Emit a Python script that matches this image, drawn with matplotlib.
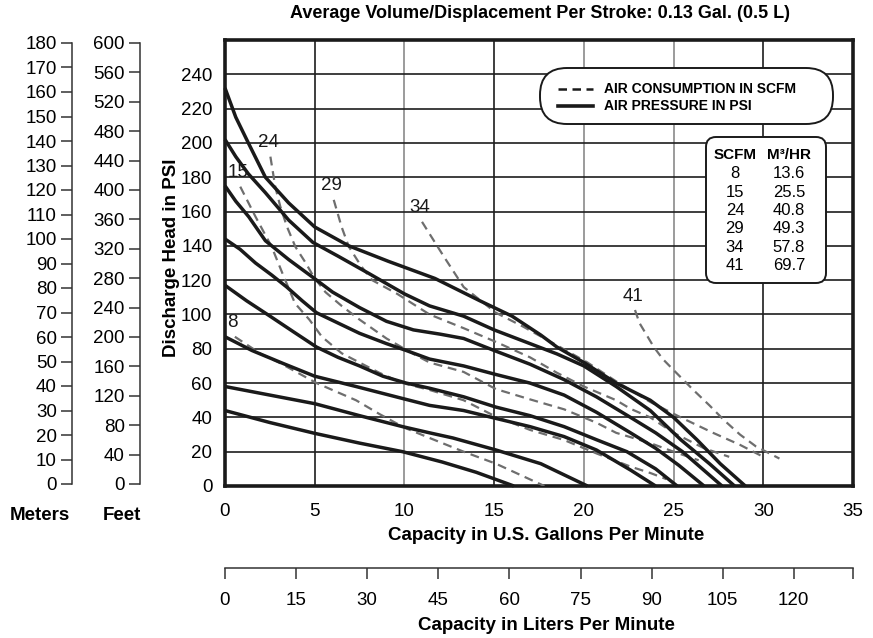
import matplotlib
matplotlib.use("Agg")
import matplotlib.pyplot as plt
from matplotlib.patches import FancyBboxPatch
from matplotlib.lines import Line2D
from matplotlib.transforms import IdentityTransform

plt.rcParams['font.family'] = ['Liberation Sans', 'DejaVu Sans']

# axis ticks
gpm_ticks = [0, 5, 10, 15, 20, 25, 30, 35]
psi_ticks = [0, 20, 40, 60, 80, 100, 120, 140, 160, 180, 200, 220, 240]
meter_ticks = list(range(0, 181, 10))
feet_ticks = list(range(0, 601, 40))
lpm_ticks = [0, 15, 30, 45, 60, 75, 90, 105, 120]

# air pressure curves (solid)
p1_gpm = [0, 0.6, 1.3, 2.25, 3.55, 5.0, 6.9, 9.1, 11.7, 14.2, 16.0, 17.6, 18.5, 20.0, 21.8, 23.7, 25.0, 26.3, 27.6, 29.0]
p1_psi = [232, 215, 200, 180, 165, 151, 140, 131, 121, 108, 99, 88, 81, 72, 60, 50, 40, 27, 13, 0]
p2_gpm = [0, 0.6, 1.3, 2.25, 3.55, 4.9, 6.3, 8.0, 10.0, 11.4, 13.3, 15.0, 17.0, 18.5, 20.0, 21.8, 23.7, 25.4, 27.0, 28.4]
p2_psi = [202, 192, 182, 171, 155, 142, 134, 124, 112, 105, 99, 91, 83, 77, 70, 58, 44, 27, 13, 0]
p3_gpm = [0, 0.6, 1.32, 2.25, 3.55, 4.85, 6.0, 7.5, 9.0, 10.5, 12.0, 13.3, 15.0, 17.0, 18.9, 20.7, 22.6, 24.0, 25.5, 27.7]
p3_psi = [175, 166, 157, 143, 132, 122, 113, 104, 96, 91, 88.5, 86, 79, 71, 62, 52, 40, 31, 20, 0]
p4_gpm = [0, 0.84, 1.7, 2.6, 3.44, 4.3, 5.1, 6.3, 7.5, 9.0, 10.1, 11.4, 13.3, 15.1, 17.0, 18.9, 20.7, 22.6, 24.0, 25.3, 26.7]
p4_psi = [144, 138, 130, 123, 116, 108, 101, 95, 89, 83, 79, 74, 70, 65, 60, 53, 43, 31, 22, 12, 0]
p5_gpm = [0, 1.2, 2.51, 3.8, 5.1, 6.3, 7.5, 8.8, 10.1, 11.4, 13.3, 15.1, 17.0, 18.9, 20.7, 22.4, 24.0, 25.2]
p5_psi = [117, 108, 99, 90, 81, 75, 70, 64, 60, 57, 52, 46, 41, 34.6, 27, 20, 10, 0]
p6_gpm = [0, 1.5, 3.2, 5.0, 7.3, 9.9, 11.4, 13.3, 15.1, 17.0, 18.9, 20.7, 22.6, 24.0]
p6_psi = [87, 79, 71.6, 64, 58, 51, 47, 44, 39.4, 34.6, 28.8, 21, 9.3, 0]
p7_gpm = [0, 2.5, 5.0, 7.5, 9.9, 11.4, 12.7, 15.1, 17.6, 20.2]
p7_psi = [58, 53, 48, 41, 34.6, 31, 28, 21, 13, 0]
p8_gpm = [0, 2.5, 5.0, 7.5, 9.9, 12.1, 14.0, 16.1]
p8_psi = [44, 37, 30.7, 25, 20, 14, 8, 0]

# air consumption curves (dashed)
scfm = [8, 15, 24, 29, 34, 41]
m3hr = ['13.6', '25.5', '40.8', '49.3', '57.8', '69.7']
c8_gpm = [0.55, 2.0, 3.1, 5.1, 7.3, 8.6, 10.0, 11.4, 13.3, 15.1, 17.8]
c8_psi = [87, 77, 71.5, 60, 50, 42, 34, 28, 20, 13, 0]
c15_gpm = [0.85, 1.7, 2.6, 3.2, 3.9, 4.7, 5.4, 6.5, 7.4, 8.6, 9.9, 11.4, 13.3, 15.1, 17.0, 18.9, 20.7, 22.6, 23.7, 24.6]
c15_psi = [174.5, 157, 139.5, 124, 106.5, 97, 87, 77.4, 72.5, 66, 60, 56, 50, 40.4, 32.7, 26.8, 19, 11.3, 7.6, 4]
c24_gpm = [2.53, 2.8, 3.08, 3.46, 3.92, 4.5, 4.94, 5.6, 6.5, 7.5, 9.0, 10.5, 11.4, 13.3, 15.1, 17.0, 18.9, 20.7, 21.8, 23.7, 25.0, 26.4]
c24_psi = [192, 174.5, 163, 151, 139.5, 130, 122, 113, 105, 97, 86, 77, 72, 66.5, 56.5, 50.5, 44.7, 36.9, 31, 25, 20, 15]
c29_gpm = [6.06, 6.5, 6.9, 7.6, 8.2, 9.6, 11.4, 13.3, 15.1, 17.0, 18.5, 20.0, 21.8, 22.6, 23.7, 25.0, 26.7, 28.1]
c29_psi = [166.8, 151, 139.5, 128, 120, 112, 100, 92, 84, 75, 66, 58, 50, 45, 40, 31, 22, 17]
c34_gpm = [10.98, 11.4, 12.2, 13.3, 14.2, 15.1, 16.6, 18.5, 20.2, 21.8, 23.7, 25.4, 27.2, 28.7, 30.0]
c34_psi = [154, 147, 133.7, 116, 108.5, 101, 93, 82, 72, 61, 49, 40, 31, 24, 17]
c41_gpm = [22.85, 23.1, 23.5, 23.9, 24.4, 25.0, 26.1, 27.0, 27.8, 28.7, 29.6, 30.9]
c41_psi = [102.6, 95, 88, 81, 74, 67.6, 56, 47, 38.5, 30, 23, 16]

W, H = 873, 638


def fx(x):
    return x / W


def fy(y):
    return 1 - y / H


fig = plt.figure(figsize=(W / 100, H / 100), dpi=100)
fig.patch.set_facecolor('white')

# main chart
ax = fig.add_axes([fx(225), fy(486), (853 - 225) / W, (486 - 40) / H])
ax.set_xlim(0, 35)
ax.set_ylim(0, 260)
ax.set_xticks(gpm_ticks)
ax.set_yticks(psi_ticks)
ax.grid(True, color='#1e1e1e', lw=1.2)
for i, t in enumerate(gpm_ticks):
    if t in (10, 20, 25):
        ax.get_xgridlines()[i].set_color('#8a8a8a')
for s in ax.spines.values():
    s.set_linewidth(2.6)
    s.set_color('#1a1a1a')
ax.tick_params(length=0, labelsize=13.5)
ax.tick_params(axis='x', pad=12)
ax.tick_params(axis='y', pad=9)

solid = [(p1_gpm, p1_psi), (p2_gpm, p2_psi), (p3_gpm, p3_psi), (p4_gpm, p4_psi),
         (p5_gpm, p5_psi), (p6_gpm, p6_psi), (p7_gpm, p7_psi), (p8_gpm, p8_psi)]
for gx, gy in solid:
    ax.plot(gx, gy, color='#1a1a1a', lw=2.5, solid_joinstyle='round', solid_capstyle='butt', zorder=4, clip_on=False)

dashed = [(c8_gpm, c8_psi), (c15_gpm, c15_psi), (c24_gpm, c24_psi),
          (c29_gpm, c29_psi), (c34_gpm, c34_psi), (c41_gpm, c41_psi)]
for s, (gx, gy) in zip(scfm, dashed):
    ax.plot(gx, gy, color='#6e6e6e', lw=1.6, dashes=(4, 2.6), zorder=3)
    ax.annotate(str(s), xy=(gx[0], gy[0]), xytext=(-1.5, 10), textcoords='offset points',
                ha='center', va='center', fontsize=13.5, color='#1a1a1a')

# meters / feet scales
for xpos, top, ticks in [(72, 180, meter_ticks), (140, 600, feet_ticks)]:
    a = fig.add_axes([fx(xpos), fy(484), 0.0001, (484 - 43) / H])
    a.set_facecolor('none')
    a.set_ylim(0, top)
    a.set_yticks(ticks)
    a.set_xticks([])
    for k in ('top', 'right', 'bottom'):
        a.spines[k].set_visible(False)
    a.spines['left'].set_color('#333333')
    a.spines['left'].set_linewidth(1.1)
    a.tick_params(axis='y', length=8, width=1.1, color='#333333', labelsize=13.5, pad=3)

# liters scale
al = fig.add_axes([fx(225), fy(568), (853 - 225) / W, 0.0001])
al.set_facecolor('none')
al.set_xlim(0, 35 * 3.785411784)
al.set_xticks(lpm_ticks + [35 * 3.785411784])
al.set_xticklabels([str(t) for t in lpm_ticks] + [''])
al.set_yticks([])
for k in ('top', 'right', 'left'):
    al.spines[k].set_visible(False)
al.spines['bottom'].set_color('#333333')
al.spines['bottom'].set_linewidth(1.1)
al.tick_params(axis='x', length=8, width=1.1, color='#333333', labelsize=13.5, pad=9)

# titles
bold = dict(fontweight='bold', fontsize=13.5, ha='center', va='center')
fig.text(fx(540), fy(13), 'Average Volume/Displacement Per Stroke: 0.13 Gal. (0.5 L)',
         fontweight='bold', fontsize=13, ha='center', va='center')
fig.text(fx(546), fy(535), 'Capacity in U.S. Gallons Per Minute', **bold)
fig.text(fx(546), fy(625), 'Capacity in Liters Per Minute', **bold)
fig.text(fx(172), fy(258), 'Discharge Head in PSI', rotation=90, **bold)
fig.text(fx(40), fy(516), 'Meters', **bold)
fig.text(fx(122), fy(516), 'Feet', **bold)

# legend pill
pill = FancyBboxPatch((540, H - 124), 293, 56, boxstyle='round,pad=0,rounding_size=27',
                      transform=IdentityTransform(), fc='white', ec='#1a1a1a', lw=1.4, zorder=3)
fig.add_artist(pill)
fig.add_artist(Line2D([558, 593], [H - 89, H - 89], transform=IdentityTransform(),
                      color='#1a1a1a', lw=1.8, dashes=(3.4, 2.2), zorder=4))
fig.add_artist(Line2D([558, 593], [H - 106, H - 106], transform=IdentityTransform(),
                      color='#1a1a1a', lw=2.6, zorder=4))
leg = dict(fontweight='bold', fontsize=10, ha='left', va='center', zorder=5)
fig.text(fx(604), fy(89), 'AIR CONSUMPTION IN SCFM', **leg)
fig.text(fx(604), fy(106), 'AIR PRESSURE IN PSI', **leg)

# scfm table
box = FancyBboxPatch((706, H - 283), 120, 146, boxstyle='round,pad=0,rounding_size=10',
                     transform=IdentityTransform(), fc='white', ec='#1a1a1a', lw=1.4, zorder=3)
fig.add_artist(box)
fig.text(fx(735), fy(155), 'SCFM', fontweight='bold', fontsize=11, ha='center', va='center', zorder=5)
fig.text(fx(789), fy(155), 'M\u00b3/HR', fontweight='bold', fontsize=11, ha='center', va='center', zorder=5)
for i, (s, m) in enumerate(zip(scfm, m3hr)):
    fig.text(fx(735), fy(174 + 18.3 * i), str(s), fontsize=12, ha='center', va='center', zorder=5)
    fig.text(fx(789), fy(174 + 18.3 * i), m, fontsize=12, ha='center', va='center', zorder=5)

fig.savefig('out.png', dpi=100)
